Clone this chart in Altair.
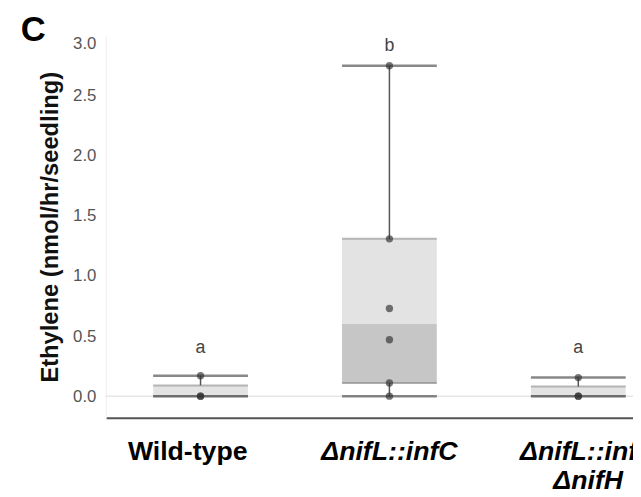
import altair as alt
import pandas as pd

# ---- data ----
groups = ["Wild-type", "ΔnifL::infC", "ΔnifL::infC ΔnifH"]
whisker_low = [0.0, 0.0, 0.0]
q1 = [0.0, 0.11, 0.0]
median = [0.01, 0.60, 0.01]
q3 = [0.09, 1.31, 0.08]
whisker_high = [0.17, 2.75, 0.155]
letters = ["a", "b", "a"]
letter_y = [0.40, 2.91, 0.40]

wt_points = [0.0, 0.0, 0.17]
infc_points = [0.0, 0.11, 0.47, 0.73, 1.31, 2.75]
nifh_points = [0.0, 0.0, 0.155]

y_ticks = [0.0, 0.5, 1.0, 1.5, 2.0, 2.5, 3.0]

summary = pd.DataFrame({
    "group": groups, "wlo": whisker_low, "q1": q1, "med": median,
    "q3": q3, "whi": whisker_high, "letter": letters, "ly": letter_y,
})
points = pd.DataFrame({
    "group": [groups[0]] * len(wt_points) + [groups[1]] * len(infc_points)
    + [groups[2]] * len(nifh_points),
    "value": wt_points + infc_points + nifh_points,
})
zero = pd.DataFrame({"y": [0.0]})

FONT = "Liberation Sans"
BOX = 96

x_enc = alt.X(
    "group:N",
    scale=alt.Scale(domain=groups, range=[0.35, 574.25], paddingInner=0, paddingOuter=0),
    axis=alt.Axis(
        title=None, ticks=False, domain=True, domainColor="#555555", domainWidth=2,
        labelAngle=0, labelFontSize=27, labelFontWeight="bold", labelColor="#000000",
        labelFont=FONT, labelPadding=21, labelLineHeight=30, labelBaseline="top",
        labelFontStyle=alt.ExprRef("datum.value == 'Wild-type' ? 'normal' : 'italic'"),
        labelOffset=alt.ExprRef(
            "datum.value == 'Wild-type' ? -13 : (datum.value == 'ΔnifL::infC' ? 0 : 10)"
        ),
        labelExpr="split(datum.label, ' ')", grid=False,
    ),
)
y_scale = alt.Scale(domain=[-0.18, 3.0], nice=False, zero=False)
y_axis = alt.Axis(
    title="Ethylene (nmol/hr/seedling)", values=y_ticks, format=".1f",
    ticks=False, grid=False, domain=True, domainColor="#eeeeee", domainWidth=1,
    labelFontSize=17, labelColor="#555555", labelFont=FONT, labelPadding=10,
    labelFlush=True, titleFontSize=24, titleFontWeight="bold", titleColor="#111111",
    titleFont=FONT, titlePadding=10,
)

base = alt.Chart(summary)

zero_line = alt.Chart(zero).mark_rule(color="#e6e6e6", strokeWidth=1.5).encode(
    y=alt.Y("y:Q", scale=y_scale, axis=y_axis)
)
lower_box = base.mark_bar(size=BOX, color="#c6c6c6").encode(
    x=x_enc, y=alt.Y("q1:Q", scale=y_scale), y2="med:Q"
)
upper_box = base.mark_bar(size=BOX, color="#e3e3e3").encode(
    x=x_enc, y=alt.Y("med:Q", scale=y_scale), y2="q3:Q"
)
box_top = base.mark_tick(size=BOX, thickness=2, color="#9a9a9a", orient="horizontal").encode(
    x=x_enc, y=alt.Y("q3:Q", scale=y_scale)
)
box_bottom = base.mark_tick(size=BOX, thickness=2, color="#8c8c8c", orient="horizontal").encode(
    x=x_enc, y=alt.Y("q1:Q", scale=y_scale)
)
upper_whisker = base.mark_rule(color="#555555", strokeWidth=1.5).encode(
    x=x_enc, y=alt.Y("q3:Q", scale=y_scale), y2="whi:Q"
)
lower_whisker = base.mark_rule(color="#555555", strokeWidth=1.5).encode(
    x=x_enc, y=alt.Y("wlo:Q", scale=y_scale), y2="q1:Q"
)
cap_top = base.mark_tick(size=BOX, thickness=2.5, color="#555555", orient="horizontal").encode(
    x=x_enc, y=alt.Y("whi:Q", scale=y_scale)
)
cap_bottom = base.mark_tick(size=BOX, thickness=2.5, color="#555555", orient="horizontal").encode(
    x=x_enc, y=alt.Y("wlo:Q", scale=y_scale)
)
dots = alt.Chart(points).mark_circle(size=55, color="#2e2e2e", opacity=0.65).encode(
    x=x_enc, y=alt.Y("value:Q", scale=y_scale)
)
letter_text = base.mark_text(fontSize=18, color="#444444", font=FONT, baseline="middle").encode(
    x=x_enc, y=alt.Y("ly:Q", scale=y_scale), text="letter:N"
)

chart = alt.layer(
    zero_line, lower_box, upper_box, box_top, box_bottom, upper_whisker,
    lower_whisker, cap_top, cap_bottom, dots, letter_text,
).properties(
    width=534, height=387,
    title=alt.TitleParams("C", anchor="start", frame="group", fontSize=35, fontWeight="bold",
                          font=FONT, color="#000000", dx=-86, dy=34, offset=-7,
                          baseline="alphabetic"),
    autosize=alt.AutoSizeParams(type="none"),
    padding={"left": 99, "top": 25, "right": 0, "bottom": 69},
).configure_view(stroke=None)

chart.save("out.html", embed_options={"renderer": "svg", "actions": False})
